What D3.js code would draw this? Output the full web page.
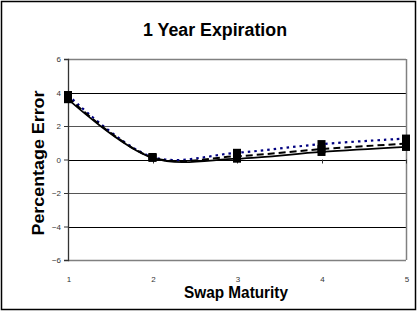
<!DOCTYPE html>
<html lang="en">
<head>
  <meta charset="UTF-8">
  <title>1 Year Expiration</title>
  <script src="https://d3js.org/d3.v7.min.js"></script>
  <style>
    body { margin: 0; background: #fff; }
    text { font-family: "Liberation Sans", Arial, sans-serif; }
  </style>
</head>
<body>
  <div id="chart"></div>
  <script>
    // values
    const maturities = [1, 2, 3, 4, 5]
    const solidSeries = [3.6, 0.1, 0.05, 0.45, 0.75]
    const dashedSeries = [3.7, 0.12, 0.2, 0.62, 0.95]
    const dottedSeries = [3.85, 0.15, 0.4, 0.92, 1.25]
    const yTicks = [-6, -4, -2, 0, 2, 4, 6]

    const width = 418, height = 312
    const margin = { left: 68, right: 12, top: 59, bottom: 52 }

    const svg = d3.select('#chart')
                  .append('svg')
                  .attr('width', width)
                  .attr('height', height)

    // outer frame
    svg.append('rect')
       .attr('x', 1.5).attr('y', 1.5)
       .attr('width', width - 4).attr('height', height - 4)
       .attr('fill', '#fff')
       .attr('stroke', '#000')
       .attr('stroke-width', 1.5)

    const xScale = d3.scaleLinear()
                     .domain([1, 5])
                     .range([margin.left, width - margin.right])
    const yScale = d3.scaleLinear()
                     .domain([-6, 6])
                     .range([height - margin.bottom, margin.top])

    // gridlines: alternating black / grey
    svg.selectAll('line.grid')
       .data(yTicks)
       .enter()
       .append('line')
       .attr('class', 'grid')
       .attr('x1', margin.left)
       .attr('x2', width - margin.right)
       .attr('y1', d => Math.round(yScale(d)) + 0.5)
       .attr('y2', d => Math.round(yScale(d)) + 0.5)
       .attr('stroke', d => (d === 6 || d === -6) ? '#808080' : (Math.abs(d) % 4 === 0 ? '#000' : '#555'))
       .attr('stroke-width', d => (d === 6 || d === -6) ? 1.5 : 1)

    // right border of plot area
    svg.append('line')
       .attr('x1', xScale(5) + 0.5).attr('x2', xScale(5) + 0.5)
       .attr('y1', yScale(6)).attr('y2', yScale(-6))
       .attr('stroke', '#808080')
       .attr('stroke-width', 1.5)

    // y axis
    const yAxis = d3.axisLeft(yScale)
                    .tickValues(yTicks)
                    .tickSize(4)
                    .tickPadding(3)
    const yg = svg.append('g')
                  .attr('transform', `translate(${margin.left},0)`)
                  .call(yAxis)
    yg.select('.domain').attr('stroke', '#333').attr('stroke-width', 1.3)
    yg.selectAll('.tick line').attr('stroke', '#333')
    yg.selectAll('.tick text')
      .attr('font-size', 8)
      .attr('fill', '#333')
      .style('font-family', '"Liberation Sans", Arial, sans-serif')

    // x axis sits on zero, with ticks below and labels at the bottom
    svg.selectAll('line.xtick')
       .data(maturities)
       .enter()
       .append('line')
       .attr('class', 'xtick')
       .attr('x1', d => Math.round(xScale(d)) + 0.5)
       .attr('x2', d => Math.round(xScale(d)) + 0.5)
       .attr('y1', yScale(0))
       .attr('y2', yScale(0) + 4)
       .attr('stroke', '#333')

    svg.selectAll('text.xlabel')
       .data(maturities)
       .enter()
       .append('text')
       .attr('class', 'xlabel')
       .attr('x', d => xScale(d) + 1)
       .attr('y', 282)
       .attr('text-anchor', 'middle')
       .attr('font-size', 8)
       .attr('fill', '#333')
       .text(d => d)

    // series
    const line = d3.line()
                   .x((d, i) => xScale(maturities[i]))
                   .y(d => yScale(d))
                   .curve(d3.curveCatmullRom.alpha(0.5))

    const series = [
      { values: dottedSeries, color: '#000080', dash: '2.5,4', w: 2.2 },
      { values: dashedSeries, color: '#000', dash: '7,4', w: 2 },
      { values: solidSeries, color: '#000', dash: null, w: 1.7 }
    ]

    series.forEach(s => {
      svg.append('path')
         .datum(s.values)
         .attr('d', line)
         .attr('fill', 'none')
         .attr('stroke', s.color)
         .attr('stroke-width', s.w)
         .attr('stroke-dasharray', s.dash)
    })

    series.forEach(s => {
      svg.selectAll(null)
         .data(s.values)
         .enter()
         .append('rect')
         .attr('x', (d, i) => xScale(maturities[i]) - 4)
         .attr('y', d => yScale(d) - 4)
         .attr('width', 8)
         .attr('height', 8)
         .attr('fill', '#000')
    })

    // titles (reference type is a narrow bold face, so stretch to its width)
    svg.append('text')
       .attr('x', 215)
       .attr('y', 36)
       .attr('text-anchor', 'middle')
       .attr('font-size', 18)
       .attr('font-weight', 'bold')
       .attr('textLength', 144)
       .attr('lengthAdjust', 'spacingAndGlyphs')
       .text('1 Year Expiration')

    svg.append('text')
       .attr('x', 236)
       .attr('y', 298)
       .attr('text-anchor', 'middle')
       .attr('font-size', 16)
       .attr('font-weight', 'bold')
       .attr('textLength', 104)
       .attr('lengthAdjust', 'spacingAndGlyphs')
       .text('Swap Maturity')

    svg.append('text')
       .attr('transform', 'translate(44,163) rotate(-90)')
       .attr('text-anchor', 'middle')
       .attr('font-size', 16)
       .attr('font-weight', 'bold')
       .attr('textLength', 145)
       .attr('lengthAdjust', 'spacingAndGlyphs')
       .text('Percentage Error')
  </script>
</body>
</html>
